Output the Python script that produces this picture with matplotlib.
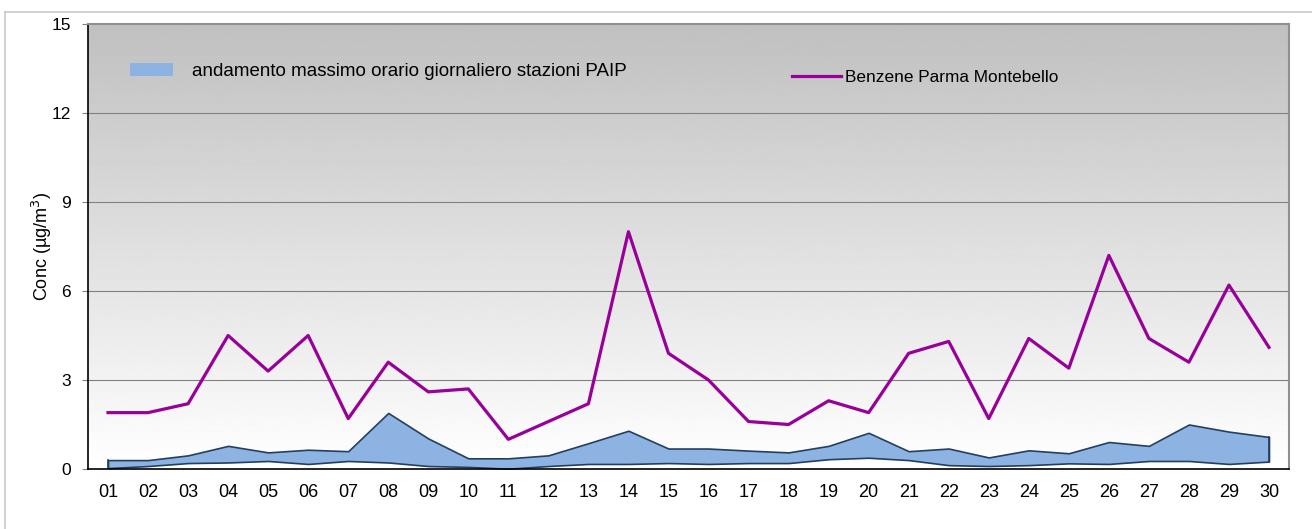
import numpy as np
import matplotlib.pyplot as plt
from matplotlib.patches import Patch
from matplotlib.lines import Line2D

plt.rcParams['font.family'] = ['Liberation Sans', 'DejaVu Sans']

days = ['%02d' % d for d in range(1, 31)]
benzene = [1.9, 1.9, 2.2, 4.5, 3.3, 4.5, 1.7, 3.6, 2.6, 2.7,
           1.0, 1.6, 2.2, 8.0, 3.9, 3.0, 1.6, 1.5, 2.3, 1.9,
           3.9, 4.3, 1.7, 4.4, 3.4, 7.2, 4.4, 3.6, 6.2, 4.1]
paip_max = [0.30, 0.30, 0.46, 0.78, 0.56, 0.65, 0.60, 1.89, 1.03, 0.36,
            0.36, 0.46, 0.87, 1.29, 0.69, 0.69, 0.62, 0.56, 0.78, 1.22,
            0.60, 0.69, 0.39, 0.63, 0.53, 0.91, 0.78, 1.50, 1.26, 1.08]
paip_min = [0.03, 0.10, 0.20, 0.22, 0.27, 0.17, 0.27, 0.22, 0.10, 0.07,
            0.01, 0.10, 0.17, 0.17, 0.20, 0.17, 0.20, 0.20, 0.33, 0.38,
            0.30, 0.13, 0.10, 0.13, 0.19, 0.17, 0.27, 0.27, 0.17, 0.25]

fig = plt.figure(figsize=(13.12, 5.29), dpi=100)
ax = fig.add_axes([88/1312, 60/529, 1201/1312, 445/529])

x = np.arange(len(days))

# gradient background, gray at top to white at bottom
grad = np.linspace(1.0, 0.753, 256).reshape(-1, 1)
ax.imshow(grad, cmap='gray', vmin=0, vmax=1, aspect='auto',
          extent=(-0.5, 29.5, 0, 15), origin='lower', zorder=0)

for yv in [3, 6, 9, 12]:
    ax.axhline(yv, color='#808080', lw=0.8, zorder=1)

ax.fill_between(x, paip_min, paip_max, facecolor='#8db3e2',
                edgecolor='#243f60', lw=1.2, zorder=2)
ax.plot([x[0], x[0]], [paip_min[0], paip_max[0]], color='#243f60', lw=1.2, zorder=2)
ax.plot([x[-1], x[-1]], [paip_min[-1], paip_max[-1]], color='#243f60', lw=1.2, zorder=2)
ax.plot(x, benzene, color='#990099', lw=2.3, zorder=3)

ax.set_xlim(-0.5, 29.5)
ax.set_ylim(0, 15)
ax.set_yticks([0, 3, 6, 9, 12, 15])
ax.set_yticklabels(['0', '3', '6', '9', '12', '15'], fontsize=12.5)
ax.set_xticks(x)
ax.set_xticklabels(days, fontsize=13)
ax.tick_params(axis='x', length=0, pad=11)
ax.tick_params(axis='y', length=4.3, width=0.8, color='#808080', pad=8)
ax.set_ylabel('Conc (µg/m$^3$)', fontsize=13, labelpad=-2)

for s in ['top', 'right']:
    ax.spines[s].set_color('#909090')
    ax.spines[s].set_linewidth(1.5)
for s in ['left', 'bottom']:
    ax.spines[s].set_color('black')
    ax.spines[s].set_linewidth(1.2)

leg1 = ax.legend([Patch(facecolor='#8db3e2', edgecolor='none')],
                 ['andamento massimo orario giornaliero stazioni PAIP'],
                 loc='upper left', bbox_to_anchor=(0.035, 0.912), frameon=False,
                 borderpad=0, borderaxespad=0,
                 fontsize=13.5, handlelength=2.3, handleheight=0.7, handletextpad=1.0)
ax.add_artist(leg1)
ax.legend([Line2D([0], [0], color='#990099', lw=2.3)],
          ['Benzene Parma Montebello'],
          loc='upper left', bbox_to_anchor=(0.586, 0.896), frameon=False,
          borderpad=0, borderaxespad=0,
          fontsize=12.4, handlelength=2.85, handletextpad=0.23)

# outer chart border
fig.add_artist(Line2D([5/1312, 1.0], [1 - 12/529, 1 - 12/529], color='#c8c8c8', lw=1.2))
fig.add_artist(Line2D([5/1312, 5/1312], [0, 1 - 12/529], color='#c8c8c8', lw=1.2))

plt.savefig('out.png', dpi=100)
